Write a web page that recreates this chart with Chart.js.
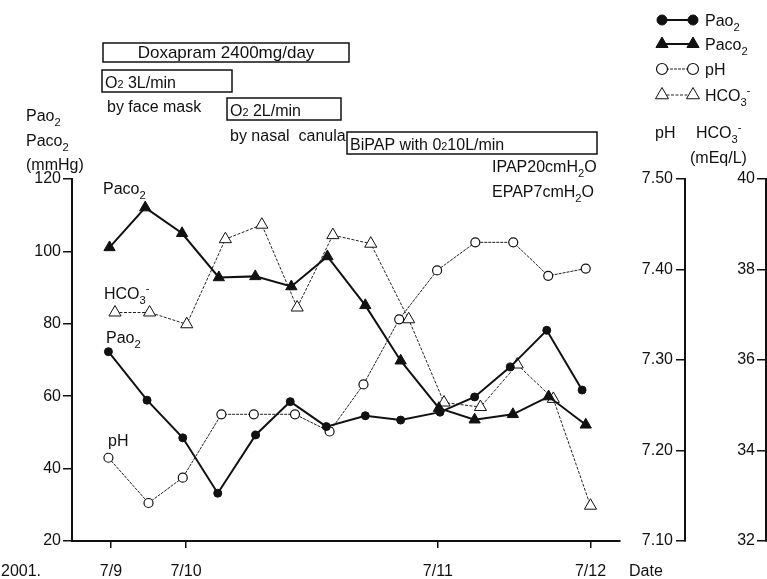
<!DOCTYPE html>
<html>
<head>
<meta charset="utf-8">
<script src="https://cdn.jsdelivr.net/npm/chart.js@4.4.1/dist/chart.umd.min.js"></script>
<style>
  html, body { margin: 0; padding: 0; background: #fff; }
  canvas { display: block; }
</style>
</head>
<body>
<canvas id="gasChart" width="767" height="579"></canvas>
<script>
// x = sample slot (0 = first sample on 7/9)
const pao2Slot = [0, 1.06, 2.04, 3.0, 4.04, 4.99, 5.98, 7.05, 8.02, 9.1, 10.05, 11.03, 12.03, 13.0];
const pao2 = [72.3, 58.9, 48.5, 33.2, 49.3, 58.5, 51.6, 54.6, 53.4, 55.6, 59.8, 68.1, 78.2, 61.7];

const paco2Slot = [0.03, 1.01, 2.02, 3.03, 4.03, 5.02, 6.01, 7.05, 8.02, 9.07, 10.05, 11.1, 12.08, 13.1];
const paco2 = [101.1, 112.1, 105.0, 92.8, 93.1, 90.3, 98.6, 85.1, 69.8, 56.7, 53.5, 55.0, 59.9, 52.1];

const phSlot = [0, 1.1, 2.04, 3.1, 3.99, 5.12, 6.07, 7.0, 7.98, 9.02, 10.07, 11.11, 12.07, 13.1];
const ph = [7.192, 7.142, 7.17, 7.24, 7.24, 7.24, 7.221, 7.273, 7.345, 7.399, 7.43, 7.43, 7.393, 7.401];

const hco3Slot = [0.18, 1.13, 2.15, 3.21, 4.21, 5.18, 6.16, 7.2, 8.24, 9.21, 10.21, 11.22, 12.21, 13.23];
const hco3 = [37.05, 37.05, 36.79, 38.67, 38.99, 37.16, 38.76, 38.57, 36.9, 35.06, 34.96, 35.9, 35.14, 32.78];

const dateTickSlot = [0.07, 2.13, 9.04, 13.23];
const dateLabels = ['7/9', '7/10', '7/11', '7/12'];

const FONT = '"Liberation Sans", Arial, Helvetica, sans-serif';
const INK = '#111';

const toPoints = (xs, ys) => xs.map((x, i) => ({ x: x, y: ys[i] }));

// text with sub/superscripts: parts = [[text, kind], ...]
function richText(ctx, x, y, parts, size) {
  size = size || 16;
  let cx = x;
  parts.forEach(([txt, kind]) => {
    let fs = size;
    let dy = 0;
    if (kind === 'sub') { fs = size * 0.7; dy = size * 0.3; }
    else if (kind === 'sup') { fs = size * 0.7; dy = -size * 0.45; }
    else if (kind === 'small') { fs = size * 0.68; }
    ctx.font = fs + 'px ' + FONT;
    ctx.fillText(txt, cx, y + dy);
    cx += ctx.measureText(txt).width;
  });
  return cx - x;
}

function richWidth(ctx, parts, size) {
  size = size || 16;
  let w = 0;
  parts.forEach(([txt, kind]) => {
    const fs = kind ? size * (kind === 'small' ? 0.68 : 0.7) : size;
    ctx.font = fs + 'px ' + FONT;
    w += ctx.measureText(txt).width;
  });
  return w;
}

const sub2 = (s) => [[s, ''], ['2', 'sub']];
const hco3Text = [['HCO', ''], ['3', 'sub'], ['-', 'sup']];

const boxes = [
  { x: 103, y: 43, w: 246, h: 19, center: true, parts: [['Doxapram 2400mg/day', '']], size: 17 },
  { x: 102, y: 70, w: 130, h: 22, parts: [['O', ''], ['2', 'small'], [' 3L/min', '']] },
  { x: 227, y: 98, w: 114, h: 22, parts: [['O', ''], ['2', 'small'], [' 2L/min', '']] },
  { x: 347, y: 132, w: 250, h: 22, parts: [['BiPAP with 0', ''], ['2', 'small'], ['10L/min', '']] }
];

const notes = [
  { x: 107, y: 112, parts: [['by face mask', '']] },
  { x: 230, y: 141, parts: [['by nasal  canula', '']] },
  { x: 492, y: 172, parts: [['IPAP20cmH', ''], ['2', 'sub'], ['O', '']] },
  { x: 492, y: 197, parts: [['EPAP7cmH', ''], ['2', 'sub'], ['O', '']] },
  // series labels inside the plot
  { x: 103, y: 194, parts: sub2('Paco') },
  { x: 104, y: 299, parts: hco3Text },
  { x: 106, y: 343, parts: sub2('Pao') },
  { x: 108, y: 446, parts: [['pH', '']] },
  // axis titles
  { x: 26, y: 121, parts: sub2('Pao') },
  { x: 26, y: 146, parts: sub2('Paco') },
  { x: 26, y: 170, parts: [['(mmHg)', '']] },
  { x: 655, y: 138, parts: [['pH', '']] },
  { x: 696, y: 138, parts: hco3Text },
  { x: 690, y: 163, parts: [['(mEq/L)', '']] },
  { x: 1, y: 576, parts: [['2001.', '']] },
  { x: 629, y: 576, parts: [['Date', '']] }
];

const legendRows = [
  { ds: 0, y: 20, parts: sub2('Pao'), r: 5 },
  { ds: 1, y: 44, parts: sub2('Paco'), r: 7 },
  { ds: 2, y: 69, parts: [['pH', '']], r: 5.5 },
  { ds: 3, y: 95, parts: hco3Text, r: 7.5 }
];

const annotationPlugin = {
  id: 'annotations',
  afterDraw(chart) {
    const ctx = chart.ctx;
    ctx.save();
    ctx.fillStyle = INK;
    ctx.strokeStyle = INK;
    ctx.textBaseline = 'alphabetic';
    ctx.textAlign = 'left';

    boxes.forEach(b => {
      ctx.lineWidth = 1.5;
      ctx.strokeRect(b.x, b.y, b.w, b.h);
      const size = b.size || 16;
      let tx = b.x + 3;
      if (b.center) tx = b.x + (b.w - richWidth(ctx, b.parts, size)) / 2;
      richText(ctx, tx, b.y + b.h - 4, b.parts, size);
    });

    notes.forEach(n => richText(ctx, n.x, n.y, n.parts, 16));

    // legend: line with a marker at each end
    legendRows.forEach(row => {
      const ds = chart.data.datasets[row.ds];
      const x1 = 662, x2 = 693;
      ctx.save();
      ctx.strokeStyle = ds.borderColor;
      ctx.lineWidth = ds.borderWidth;
      ctx.setLineDash(ds.borderDash || []);
      ctx.beginPath();
      ctx.moveTo(x1, row.y);
      ctx.lineTo(x2, row.y);
      ctx.stroke();
      ctx.setLineDash([]);
      ctx.fillStyle = ds.pointBackgroundColor;
      ctx.strokeStyle = ds.pointBorderColor;
      ctx.lineWidth = ds.pointBorderWidth;
      [x1, x2].forEach(x => {
        Chart.helpers.drawPoint(ctx, {
          pointStyle: ds.pointStyle, radius: row.r, rotation: 0, borderWidth: ds.pointBorderWidth
        }, x, row.y);
      });
      ctx.restore();
      richText(ctx, 705, row.y + 6, row.parts, 16);
    });
    ctx.restore();
  }
};

const tickFont = { family: FONT, size: 16 };

new Chart(document.getElementById('gasChart'), {
  type: 'line',
  data: {
    datasets: [
      {
        label: 'Pao2',
        data: toPoints(pao2Slot, pao2),
        yAxisID: 'y',
        borderColor: INK,
        borderWidth: 2,
        pointStyle: 'circle',
        pointRadius: 4,
        pointBackgroundColor: INK,
        pointBorderColor: INK,
        pointBorderWidth: 1
      },
      {
        label: 'Paco2',
        data: toPoints(paco2Slot, paco2),
        yAxisID: 'y',
        borderColor: INK,
        borderWidth: 2,
        pointStyle: 'triangle',
        pointRadius: 6.5,
        pointBackgroundColor: INK,
        pointBorderColor: INK,
        pointBorderWidth: 1
      },
      {
        label: 'pH',
        data: toPoints(phSlot, ph),
        yAxisID: 'yPh',
        borderColor: '#222',
        borderWidth: 1,
        borderDash: [3, 1],
        pointStyle: 'circle',
        pointRadius: 4.5,
        pointBackgroundColor: '#fff',
        pointBorderColor: INK,
        pointBorderWidth: 1.2
      },
      {
        label: 'HCO3-',
        data: toPoints(hco3Slot, hco3),
        yAxisID: 'yHco3',
        borderColor: '#222',
        borderWidth: 1,
        borderDash: [3, 1.5],
        pointStyle: 'triangle',
        pointRadius: 7,
        pointBackgroundColor: '#fff',
        pointBorderColor: INK,
        pointBorderWidth: 1
      }
    ]
  },
  options: {
    responsive: false,
    animation: false,
    layout: { padding: { top: 179, left: 0, right: 0, bottom: 0 } },
    plugins: { legend: { display: false }, tooltip: { enabled: false } },
    elements: { line: { tension: 0 } },
    scales: {
      x: {
        type: 'linear',
        min: -1,
        max: 14.04,
        afterFit: s => { s.height = 38; },
        afterBuildTicks: s => { s.ticks = dateTickSlot.map(v => ({ value: v })); },
        grid: { drawOnChartArea: false, drawTicks: true, tickLength: 7, color: INK, lineWidth: 1.5 },
        border: { display: true, color: INK, width: 2 },
        ticks: {
          autoSkip: false,
          maxRotation: 0,
          padding: 14,
          color: INK,
          font: tickFont,
          callback: (v, i) => dateLabels[i]
        }
      },
      y: {
        position: 'left',
        min: 20,
        max: 120,
        afterFit: s => { s.width = 72; },
        grid: { drawOnChartArea: false, drawTicks: true, tickLength: 9, color: INK, lineWidth: 1.5 },
        border: { display: true, color: INK, width: 2 },
        ticks: { stepSize: 20, padding: 2, color: INK, font: tickFont }
      },
      ySpacer: {
        type: 'linear',
        position: 'right',
        weight: 0,
        afterFit: s => { s.width = 65; },
        grid: { display: false },
        border: { display: false },
        ticks: { display: false }
      },
      yPh: {
        type: 'linear',
        position: 'right',
        weight: 1,
        min: 7.1,
        max: 7.5,
        afterFit: s => { s.width = 81; },
        grid: { drawOnChartArea: false, drawTicks: true, tickLength: -9, color: INK, lineWidth: 1.5 },
        border: { display: true, color: INK, width: 2 },
        ticks: {
          stepSize: 0.1,
          mirror: true,
          padding: -12,
          color: INK,
          font: tickFont,
          callback: v => v.toFixed(2)
        }
      },
      yHco3: {
        type: 'linear',
        position: 'right',
        weight: 2,
        min: 32,
        max: 40,
        afterFit: s => { s.width = 1; },
        grid: { drawOnChartArea: false, drawTicks: true, tickLength: -9, color: INK, lineWidth: 1.5 },
        border: { display: true, color: INK, width: 2 },
        ticks: { stepSize: 2, mirror: true, padding: -11, color: INK, font: tickFont }
      }
    }
  },
  plugins: [annotationPlugin]
});
</script>
</body>
</html>
